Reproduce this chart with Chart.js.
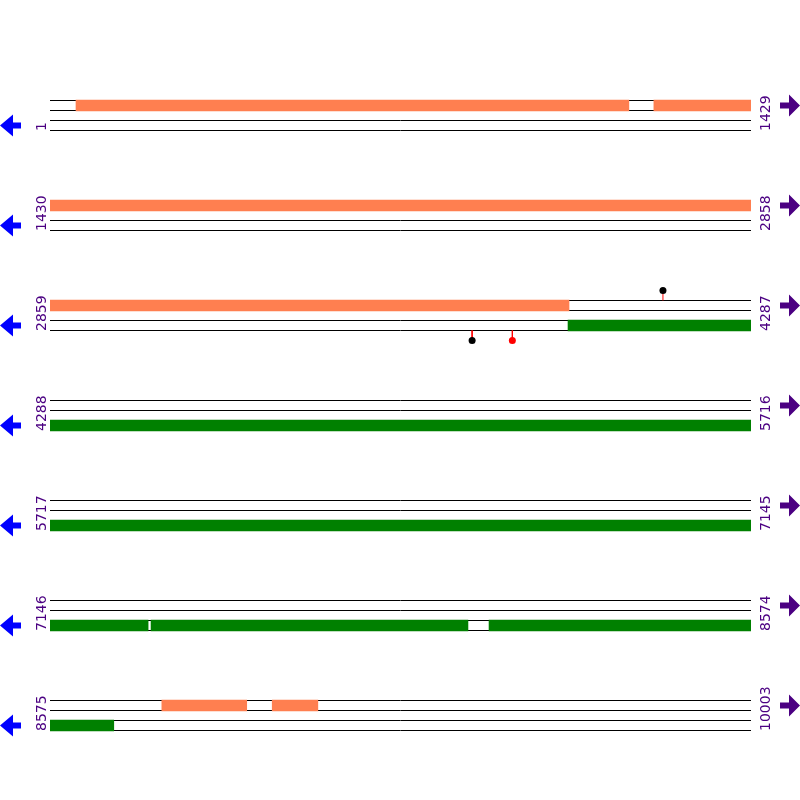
<!DOCTYPE html>
<html>
<head>
<meta charset="utf-8">
<script src="https://cdn.jsdelivr.net/npm/chart.js@4/dist/chart.umd.min.js"></script>
<style>
html,body{margin:0;padding:0;background:#fff;}
canvas{display:block;}
</style>
</head>
<body>
<canvas id="c" width="800" height="800"></canvas>
<script>
// ---- data ----
const rowStarts = [1, 1430, 2859, 4288, 5717, 7146, 8575];
const rowEnds = [1429, 2858, 4287, 5716, 7145, 8574, 10003];
const rowLength = 1429;
// forward-strand features (orange), [start, end]
const forwardFeatures = [[54, 1180], [1232, 3916], [8803, 8975], [9028, 9120]];
// reverse-strand features (green), [start, end]
const reverseFeatures = [[3915, 7345], [7352, 7997], [8041, 8704]];
// variants
const variantPositions = [4108, 3719, 3801];
const variantStrands = ['+', '-', '-'];
const variantColors = ['#000000', '#000000', '#ff0000'];

const orange = '#ff7f50';
const green = '#008000';
const labelColor = '#4b0082';

// track offsets within a row (in row units)
const trackOffsets = [0, 0.1, 0.2, 0.3];

function splitByRows(features) {
  const out = [];
  features.forEach(([s, e]) => {
    rowStarts.forEach((rs, i) => {
      const re = rowEnds[i];
      const a = Math.max(s, rs), b = Math.min(e, re);
      if (a <= b) out.push({row: i, from: a - rs, to: b - rs + 1});
    });
  });
  return out;
}

const datasets = [];
// track lines
rowStarts.forEach((rs, i) => {
  trackOffsets.forEach(off => {
    datasets.push({
      type: 'line',
      data: [{x: 0, y: i + 1 + off}, {x: rowLength, y: i + 1 + off}],
      borderColor: '#000', borderWidth: 1, pointRadius: 0, fill: false, order: 3
    });
  });
});
// feature bars
datasets.push({
  type: 'bar',
  data: splitByRows(forwardFeatures).map(f => ({x: [f.from, f.to], y: f.row + 1.05})),
  backgroundColor: orange, borderWidth: 0, barThickness: 11, grouped: false, order: 2
});
datasets.push({
  type: 'bar',
  data: splitByRows(reverseFeatures).map(f => ({x: [f.from, f.to], y: f.row + 1.25})),
  backgroundColor: green, borderWidth: 0, barThickness: 11, grouped: false, order: 2
});
// lollipops
variantPositions.forEach((p, k) => {
  let row = 0;
  rowStarts.forEach((rs, i) => { if (p >= rs && p <= rowEnds[i]) row = i; });
  const xp = p - rowStarts[row] + 0.5;
  const base = variantStrands[k] === '+' ? row + 1 : row + 1.3;
  const tip = variantStrands[k] === '+' ? base - 0.1 : base + 0.1;
  datasets.push({
    type: 'line',
    data: [{x: xp, y: base}, {x: xp, y: tip}],
    borderColor: '#ff0000', borderWidth: 1,
    pointRadius: [0, 3.5], pointBackgroundColor: variantColors[k],
    pointBorderColor: variantColors[k], pointBorderWidth: 0, fill: false, order: 1
  });
});

const decor = {
  id: 'decor',
  afterDatasetsDraw(chart) {
    const ctx = chart.ctx;
    const y = chart.scales.y;
    ctx.save();
    ctx.font = '14px "DejaVu Sans"';
    ctx.textAlign = 'left';
    ctx.textBaseline = 'alphabetic';
    rowStarts.forEach((rs, i) => {
      const yb = y.getPixelForValue(i + 1.3) + 0.5;
      ctx.fillStyle = labelColor;
      [[46, rs], [770, rowEnds[i]]].forEach(([xx, t]) => {
        ctx.save();
        ctx.translate(xx, yb);
        ctx.rotate(-Math.PI / 2);
        ctx.fillText(String(t), 0, 0);
        ctx.restore();
      });
      // left arrow (reverse strand)
      const yl = y.getPixelForValue(i + 1.25);
      ctx.fillStyle = '#0000ff';
      ctx.beginPath();
      ctx.moveTo(0, yl);
      ctx.lineTo(13, yl - 11);
      ctx.lineTo(13, yl - 3);
      ctx.lineTo(21, yl - 3);
      ctx.lineTo(21, yl + 3);
      ctx.lineTo(13, yl + 3);
      ctx.lineTo(13, yl + 11);
      ctx.closePath();
      ctx.fill();
      // right arrow (forward strand)
      const yr = y.getPixelForValue(i + 1.05);
      ctx.fillStyle = labelColor;
      ctx.beginPath();
      ctx.moveTo(800, yr);
      ctx.lineTo(789, yr - 11);
      ctx.lineTo(789, yr - 3);
      ctx.lineTo(780, yr - 3);
      ctx.lineTo(780, yr + 3);
      ctx.lineTo(789, yr + 3);
      ctx.lineTo(789, yr + 11);
      ctx.closePath();
      ctx.fill();
    });
    ctx.restore();
  }
};

new Chart(document.getElementById('c'), {
  type: 'bar',
  data: {datasets},
  options: {
    indexAxis: 'y',
    responsive: false,
    animation: false,
    devicePixelRatio: 1,
    layout: {autoPadding: false, padding: {left: 50, right: 49, top: 0, bottom: 0}},
    plugins: {legend: {display: false}, tooltip: {enabled: false}},
    scales: {
      x: {type: 'linear', min: 0, max: rowLength, display: false, offset: false},
      y: {type: 'linear', min: -0.005, max: 7.995, reverse: true, display: false, offset: false}
    }
  },
  plugins: [decor]
});
</script>
</body>
</html>
